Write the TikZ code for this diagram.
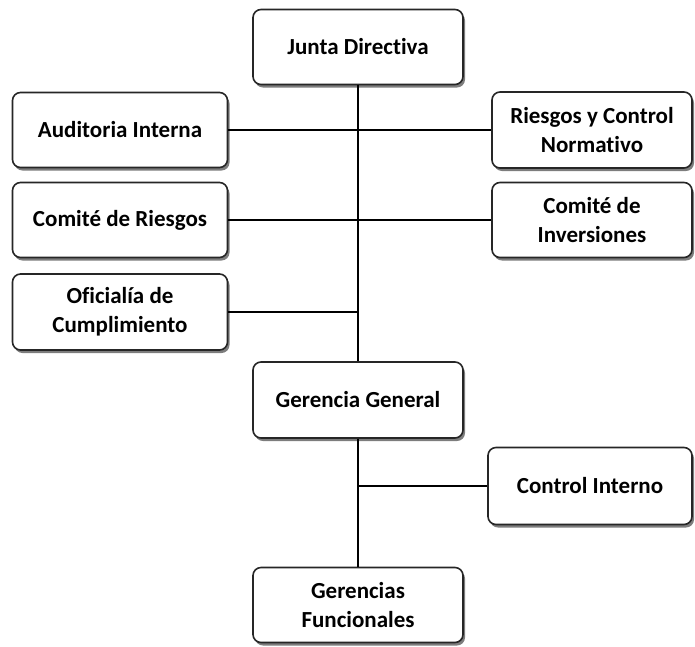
\documentclass[tikz,border=0pt]{standalone}
\usepackage{fontspec}
\setmainfont[Ligatures={NoCommon}]{Carlito}
\usetikzlibrary{shadows}
\tikzset{
  orgbox/.style={draw=black!85, line width=1.6pt, rounded corners=8pt, fill=white,
    align=center, font=\bfseries\fontsize{23}{29}\selectfont, inner sep=2pt,
    drop shadow={shadow xshift=2pt, shadow yshift=-3pt, fill=black!60, opacity=0.85}},
  link/.style={line width=2.8pt, black}
}
\begin{document}
\begin{tikzpicture}[x=1pt,y=-1pt]
\useasboundingbox (0,0) rectangle (695,646);
\node[orgbox, minimum width=210, minimum height=75] (jd) at (358,47) {Junta Directiva};
\node[orgbox, minimum width=215, minimum height=75] (ai) at (120,130) {Auditoria Interna};
\node[orgbox, minimum width=200, minimum height=76] (rc) at (592,130) {Riesgos y Control\\Normativo};
\node[orgbox, minimum width=215, minimum height=75] (cr) at (120,220) {Comité de Riesgos};
\node[orgbox, minimum width=200, minimum height=75] (ci2) at (592,220) {Comité de\\Inversiones};
\node[orgbox, minimum width=215, minimum height=76] (of) at (120,312) {Oficialía de\\Cumplimiento};
\node[orgbox, minimum width=210, minimum height=76] (gg) at (358,400) {Gerencia General};
\node[orgbox, minimum width=204, minimum height=77] (ci) at (590,486) {Control Interno};
\node[orgbox, minimum width=210, minimum height=75] (gf) at (358,605) {Gerencias\\Funcionales};
\draw[link] (jd.south) -- (gg.north);
\draw[link] (ai.east) -- (rc.west);
\draw[link] (cr.east) -- (ci2.west);
\draw[link] (of.east) -- (of.east -| jd.south);
\draw[link] (gg.south) -- (gf.north);
\draw[link] (ci.west) -- (ci.west -| gg.south);
\end{tikzpicture}
\end{document}
